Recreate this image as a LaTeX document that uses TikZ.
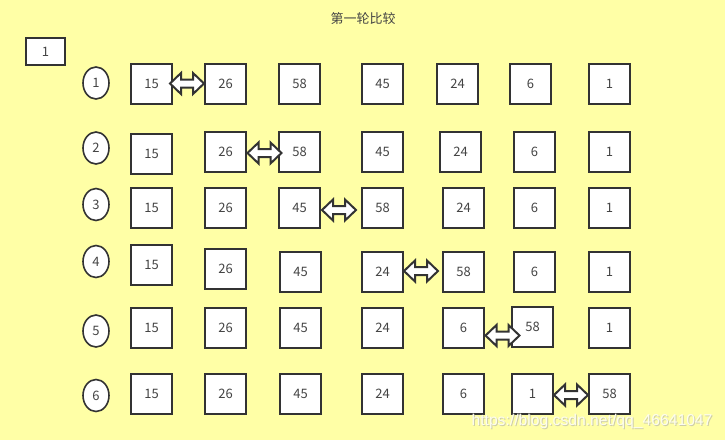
\documentclass[tikz,border=0pt]{standalone}
\usepackage{fontspec}
\setmainfont{Noto Sans CJK SC}
\newfontfamily\markfont{Liberation Sans}
\usetikzlibrary{calc}
\usetikzlibrary{shapes.geometric}
\definecolor{paper}{RGB}{255,255,166}
\definecolor{ink}{RGB}{51,51,51}
\definecolor{txt}{RGB}{68,68,68}
\definecolor{wmark}{RGB}{252,252,240}
\definecolor{wshade}{RGB}{205,205,170}
\tikzset{
  numbox/.style={draw=ink, line width=2pt, fill=white, minimum width=41pt,
    minimum height=40pt, inner sep=0pt, text=txt, font=\fontsize{13}{13}\selectfont},
  rowmark/.style={ellipse, draw=ink, line width=1.6pt, fill=white, minimum width=26pt,
    minimum height=32pt, inner sep=0pt, text=txt, font=\fontsize{13}{13}\selectfont},
  swapline/.style={draw=ink, line width=2pt, fill=white, line join=miter},
  urltext/.style={font=\markfont\fontsize{15.7}{15.7}\selectfont, anchor=east}
}
% double arrow between two boxes: #3/#4 = shift of its centre
\newcommand{\swaparrow}[4]{%
  \draw[swapline] ($(#1.east)!0.5!(#2.west)$) ++(-17+#3,#4) -- ++(11,-10.5) -- ++(0,6.5)
    -- ++(12,0) -- ++(0,-6.5) -- ++(11,10.5) -- ++(-11,10.5) -- ++(0,-6.5) -- ++(-12,0)
    -- ++(0,6.5) -- cycle;}

\begin{document}
\begin{tikzpicture}[x=1pt,y=-1pt]

 \fill[paper] (0,0) rectangle (725,440);
 \useasboundingbox (0,0) rectangle (725,440);

 \node[text=txt, font=\fontsize{13}{13}\selectfont] (title) at (363,19) {第一轮比较};
 \node[numbox, minimum width=39pt, minimum height=27pt] (start) at (45.5,51.5) {1};

% row markers
\foreach \y [count=\i] in {83, 148, 204.5, 261.5, 331, 395.5}{
    \node[rowmark] (m\i) at (96,\y) {\i};
}

% the six rows of boxes
\foreach \x/\y/\v [count=\i] in {151.5/83.5/15, 225.5/83.5/26, 299.5/83.5/58, 382.5/83.5/45,
	457.5/83.5/24, 530.5/83.5/6, 609.5/83.5/1}{
    \node[numbox] (r1c\i) at (\x,\y) {\v};
}
\foreach \x/\y/\v [count=\i] in {151.5/153.5/15, 225.5/151.5/26, 299.5/151.5/58, 382.5/151.5/45,
	460.5/151.5/24, 534.5/151.5/6, 609.5/151.5/1}{
    \node[numbox] (r2c\i) at (\x,\y) {\v};
}
\foreach \x/\y/\v [count=\i] in {151.5/208/15, 225.5/208/26, 299.5/208/45, 382.5/208/58,
	463.5/208/24, 534.5/208/6, 609.5/208/1}{
    \node[numbox] (r3c\i) at (\x,\y) {\v};
}
\foreach \x/\y/\v [count=\i] in {151.5/265/15, 225.5/269/26, 300.5/272/45, 382.5/272/24,
	463.5/272/58, 534.5/272/6, 609.5/272/1}{
    \node[numbox] (r4c\i) at (\x,\y) {\v};
}
\foreach \x/\y/\v [count=\i] in {151.5/328/15, 225.5/328/26, 300.5/328/45, 382.5/328/24,
	463.5/328/6, 532.5/327/58, 609.5/328/1}{
    \node[numbox] (r5c\i) at (\x,\y) {\v};
}
\foreach \x/\y/\v [count=\i] in {151.5/393.5/15, 225.5/393.5/26, 300.5/393.5/45, 382.5/393.5/24,
	463.5/393.5/6, 532.5/393.5/1, 609.5/393.5/58}{
    \node[numbox] (r6c\i) at (\x,\y) {\v};
}

% swaps
\swaparrow{r1c1}{r1c2}{-1.5}{0}
\swaparrow{r2c2}{r2c3}{2}{1.5}
\swaparrow{r3c3}{r3c4}{-2}{2}
\swaparrow{r4c4}{r4c5}{-2}{-1}
\swaparrow{r5c5}{r5c6}{4.5}{8}
\swaparrow{r6c6}{r6c7}{0}{1.5}

% watermark, with a faint shade under it
 \node[urltext, text=wshade] (urlshade) at (717,422) {https://blog.csdn.net/qq\_46641047};
 \node[urltext, text=wmark] (url) at (716,421) {https://blog.csdn.net/qq\_46641047};

\end{tikzpicture}
\end{document}
